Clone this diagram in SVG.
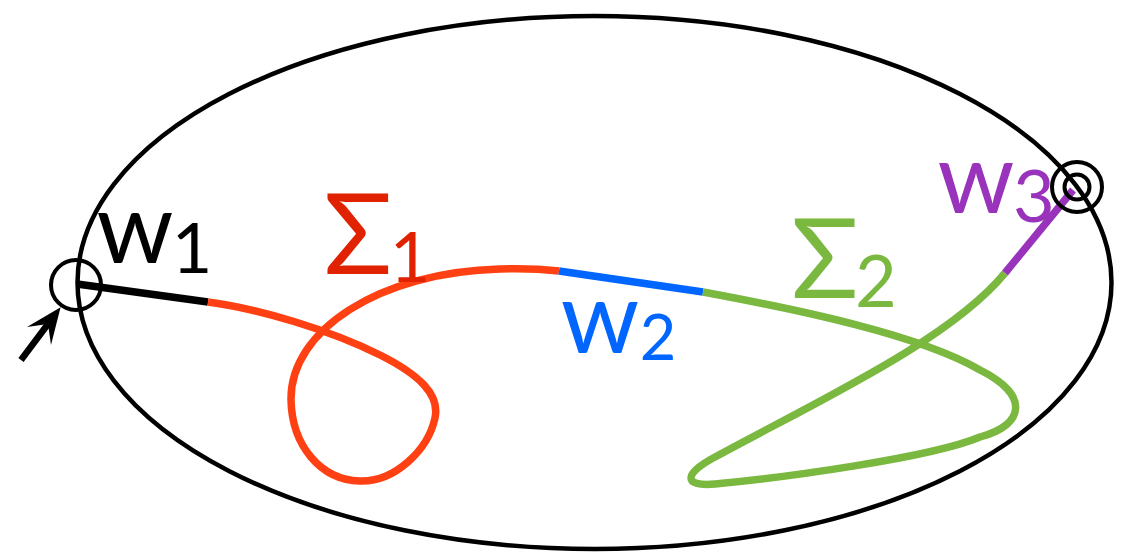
<svg xmlns="http://www.w3.org/2000/svg" width="1132" height="552" viewBox="0 0 1132 552">
<style>
.lbl{font-family:Lato,"Liberation Sans","DejaVu Sans",sans-serif;text-anchor:middle}
.seg{fill:none;stroke-width:7.5;stroke-linecap:butt;stroke-linejoin:round}
.ring{fill:none;stroke:#000;stroke-width:4}
</style>
<defs>
<marker id="ah" viewBox="-18 -18 42 36" refX="0" refY="0" markerWidth="42" markerHeight="36" markerUnits="userSpaceOnUse" orient="auto">
<path d="M21,0 L-15,-15 L0,0 L-15,15 z" fill="#000"/>
</marker>
</defs>
<rect width="1132" height="552" fill="#fff"/>
<g id="domain">
<ellipse cx="594.5" cy="282.5" rx="517" ry="266.5" fill="none" stroke="#000" stroke-width="4.5"/>
</g>
<g id="connectors">
<path id="seg-w1" class="seg" stroke="#000" d="M77,284 L208,302"/>
<path id="seg-sigma1" class="seg" stroke="#FF4012" d="M208,302 C260,309 330,330 380,355 C420,375 440,395 435,418 C428,450 395,482 360,481 C320,480 292,445 291,400 C290,330 380,272 500,269 C530,268 550,270 559,271"/>
<path id="seg-w2" class="seg" stroke="#0066FF" d="M559,271 L703,292"/>
<path id="seg-sigma2" class="seg" stroke="#7AB840" d="M703,292 C800,310 920,335 980,370 C1030,395 1025,425 980,437 C930,458 780,478 715,484 C683,487 683,474 715,457 C820,400 950,340 1005,273"/>
<path id="seg-w3" class="seg" stroke="#9933BB" d="M1005,273 L1073,190"/>
<line id="entry-arrow" x1="21" y1="360" x2="48" y2="324" stroke="#000" stroke-width="6.5" marker-end="url(#ah)"/>
</g>
<g id="start-point">
<circle class="ring" cx="76" cy="285" r="25"/>
</g>
<g id="end-point">
<circle class="ring" cx="1077" cy="187" r="25"/>
<circle class="ring" cx="1077" cy="187" r="12.5"/>
</g>
<g id="label-w1" fill="#000">
<text class="lbl" x="135" y="263" font-size="98">w</text>
<text class="lbl" x="192" y="273" font-size="70">1</text>
</g>
<g id="label-sigma1" fill="#E02200">
<text class="lbl" x="358" y="274" font-size="113">Σ</text>
<text class="lbl" x="410" y="282" font-size="70">1</text>
</g>
<g id="label-w2" fill="#0066FF">
<text class="lbl" x="600" y="353" font-size="100">w</text>
<text class="lbl" x="658" y="360" font-size="63">2</text>
</g>
<g id="label-sigma2" fill="#7AB840">
<text class="lbl" x="825" y="298" font-size="111">Σ</text>
<text class="lbl" x="876" y="307" font-size="72">2</text>
</g>
<g id="label-w3" fill="#9933BB">
<text class="lbl" x="976" y="213" font-size="98">w</text>
<text class="lbl" x="1034" y="222" font-size="72">3</text>
</g>
</svg>
